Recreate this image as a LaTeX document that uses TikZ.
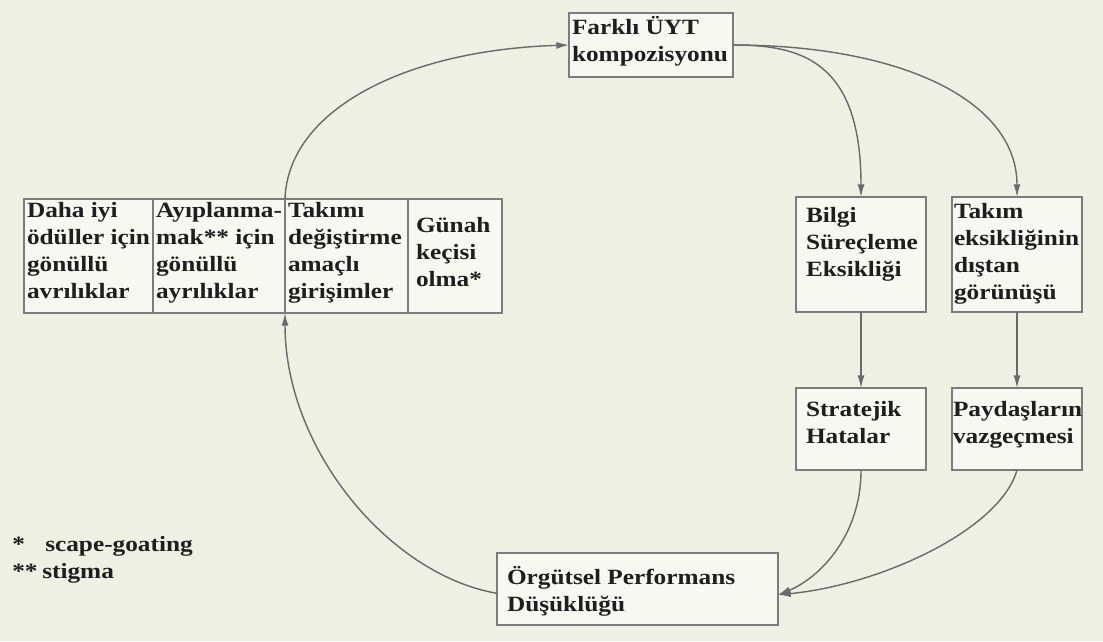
\documentclass[tikz,border=0pt]{standalone}
\usepackage{fontspec}
\setmainfont{Liberation Serif}[FakeStretch=1.16]
\usetikzlibrary{arrows.meta,calc}

\definecolor{bgcol}{HTML}{EDF0E2}
\definecolor{boxfill}{HTML}{F7F8F2}
\definecolor{edgegray}{HTML}{7C7C7C}
\definecolor{linegray}{HTML}{6A6A6A}
\definecolor{textblack}{HTML}{1E1E1E}

% one drawing unit
\newlength\pxu
\setlength\pxu{0.025cm}

% box content: width, height, left pad, top pad, lines
\newcommand\celltext[5]{%
  \parbox[c][#2\pxu][t]{#1\pxu}{\raggedright\leftskip=#3\pxu\relax
    \vspace*{#4\pxu}\strut #5\par}}

\tikzset{
  boxnode/.style={draw=edgegray, fill=boxfill, line width=1.1pt,
    inner sep=0pt, outer sep=0pt, anchor=north west, text=textblack,
    font=\bfseries\fontsize{15.5}{19.2}\selectfont},
  conn/.style={draw=linegray, line width=1pt,
    -{Latex[length=9pt,width=5pt]}},
  note/.style={anchor=base west, inner sep=0pt, text=textblack,
    font=\bfseries\fontsize{15.5}{19.2}\selectfont}
}

\begin{document}
\begin{tikzpicture}[x=0.025cm, y=-0.025cm]
  \useasboundingbox (0,0) rectangle (1103,641);
  \fill[bgcol] (0,0) rectangle (1103,641);

  % top
  \node[boxnode] (farkli) at (569,13)
    {\celltext{164}{64}{3}{3}{Farklı~ÜYT\\kompozisyonu}};

  % row of four adjoining cells
  \node[boxnode] (cell1) at (24,199)
    {\celltext{129}{114}{3}{0}{Daha~iyi\\ödüller~için\\gönüllü\\avrılıklar}};
  \node[boxnode] (cell2) at (153,199)
    {\celltext{132}{114}{3}{0}{Ayıplanma-\\mak**~için\\gönüllü\\ayrılıklar}};
  \node[boxnode] (cell3) at (285,199)
    {\celltext{123}{114}{3}{0}{Takımı\\değiştirme\\amaçlı\\girişimler}};
  \node[boxnode] (cell4) at (408,199)
    {\celltext{94}{114}{8}{15}{Günah\\keçisi\\olma*}};

  % right column
  \node[boxnode] (bilgi) at (796,197)
    {\celltext{130}{115}{10}{7}{Bilgi\\Süreçleme\\Eksikliği}};
  \node[boxnode] (takim) at (952,197)
    {\celltext{130}{115}{2}{3}{Takım\\eksikliğinin\\dıştan\\görünüşü}};
  \node[boxnode] (strat) at (796,388)
    {\celltext{130}{82}{10}{10}{Stratejik\\Hatalar}};
  \node[boxnode] (paydas) at (952,388)
    {\celltext{130}{82}{1}{10}{Paydaşların\\vazgeçmesi}};

  % bottom
  \node[boxnode] (org) at (497,553)
    {\celltext{281}{72}{10}{13}{Örgütsel~Performans\\Düşüklüğü}};

  \coordinate (orgin)  at ($(org.south east)!0.42!(org.north east)$);
  \coordinate (orgout) at ($(org.south west)!0.44!(org.north west)$);

  % connectors
  \draw[conn] (cell3.north west) .. controls (288,110) and (405,50) .. (farkli.west);
  \draw[conn] (farkli.east) .. controls (800,45) and (861,60) .. (bilgi.north);
  \draw[conn] (farkli.east) .. controls (900,45) and (1017,100) .. (takim.north);
  \draw[conn] (bilgi.south) -- (strat.north);
  \draw[conn] (takim.south) -- (paydas.north);
  \draw[conn] (strat.south) .. controls (861,540) and (815,580) .. (orgin);
  \draw[conn] (paydas.south) .. controls (1000,530) and (880,585) .. (orgin);
  \draw[conn] (orgout) .. controls (390,575) and (285,450) .. (cell3.south west);

  % footnotes
  \node[note] (star1) at (12,551) {*};
  \node[note] (fn1) at (45,551) {scape-goating};
  \node[note] (star2) at (12,578) {**};
  \node[note] (fn2) at (42,578) {stigma};
\end{tikzpicture}
\end{document}
